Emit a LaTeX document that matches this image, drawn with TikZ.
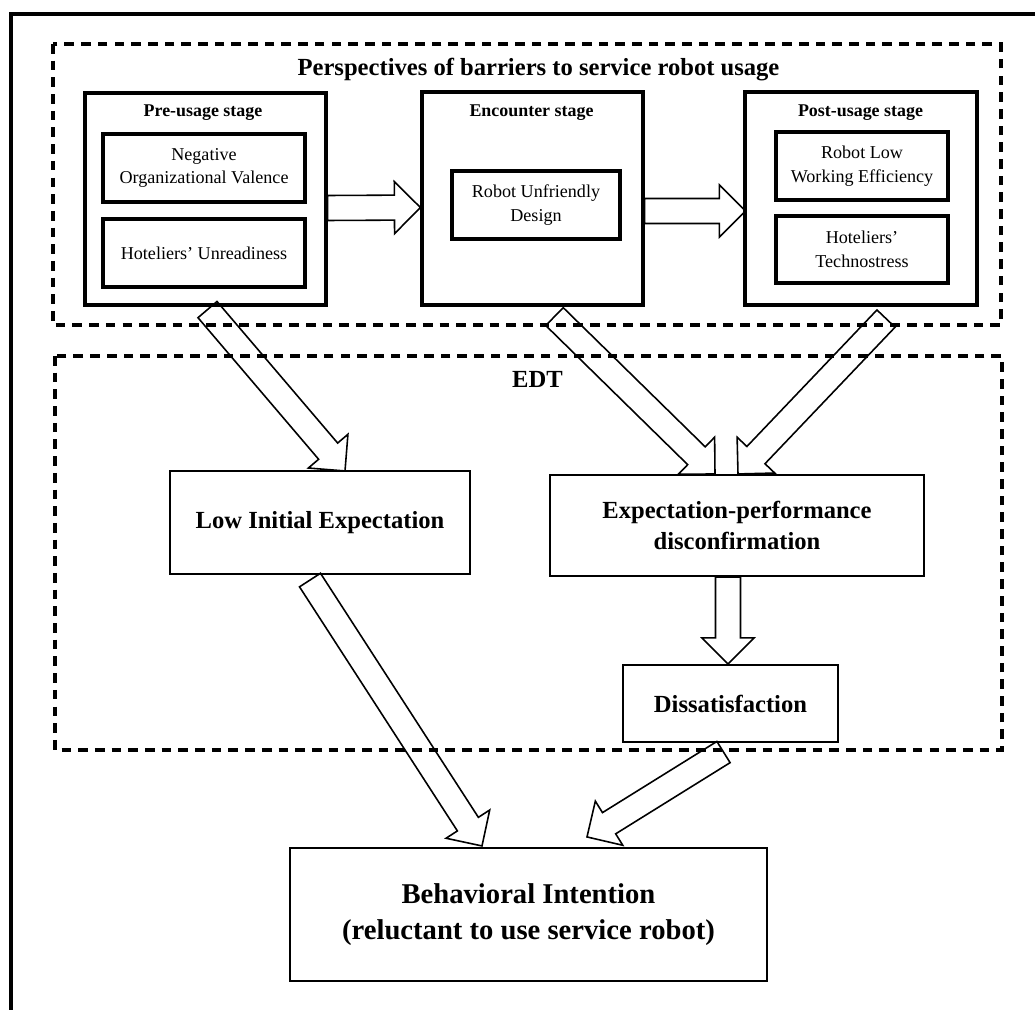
\documentclass[tikz,border=0pt]{standalone}
\usepackage{fontspec}
\setmainfont{Liberation Serif}
\usetikzlibrary{calc}

\tikzset{
  boxdim/.style 2 args={minimum width=#1*0.02cm, minimum height=#2*0.02cm},
  dashframe/.style={line width=1.8pt, dash pattern=on 5.5pt off 4pt},
  stage/.style={draw, line width=1.8pt},
  factor/.style={draw, line width=1.8pt, align=center, font=\fontsize{10.3}{13.6}\selectfont},
  construct/.style={draw, line width=1.2pt, align=center, font=\fontsize{14}{17.6}\selectfont\bfseries},
  intent/.style={font=\fontsize{16.3}{20.4}\selectfont\bfseries},
  regionlabel/.style={anchor=base, inner sep=0pt, font=\fontsize{14}{17}\selectfont\bfseries},
  stagelabel/.style={anchor=base, inner sep=0pt, font=\fontsize{10.2}{12}\selectfont\bfseries},
  fat/.style={draw, line width=0.9pt}
}

% hollow block arrow from #1 (tail) to #2 (tip)
\newcommand{\fatarrow}[2]{%
  \coordinate (fa-a) at (#1);
  \coordinate (fa-b) at (#2);
  \coordinate (fa-n) at ($(fa-b)!0.52cm!(fa-a)$);
  \draw[fat] ($(fa-a)!0.25cm!90:(fa-b)$) -- ($(fa-n)!0.25cm!90:(fa-b)$)
    -- ($(fa-n)!0.52cm!90:(fa-b)$) -- (fa-b)
    -- ($(fa-n)!0.52cm!-90:(fa-b)$) -- ($(fa-n)!0.25cm!-90:(fa-b)$)
    -- ($(fa-a)!0.25cm!-90:(fa-b)$) -- cycle;
}

\begin{document}
\begin{tikzpicture}[x=0.02cm, y=-0.02cm]
  \useasboundingbox (0,0) rectangle (1035,1010);

  % frame, only top and left edges show
  \draw[line width=2.1pt] (11,1010) -- (11,14) -- (1035,14);

  % the two dashed regions
  \draw[dashframe] (53,44) rectangle (1001,325);
  \draw[dashframe] (55,356) rectangle (1002,750);
  \node[regionlabel] (barriers) at (538.5,76) {Perspectives of barriers to service robot usage};
  \node[regionlabel] (edt) at (537.5,387) {EDT};

  % stages
  \node[stage, boxdim={241}{212}] (pre) at (205.5,199) {};
  \node[stage, boxdim={221}{213}] (enc) at (532.5,198.5) {};
  \node[stage, boxdim={232}{213}] (post) at (861,198.5) {};
  \node[stagelabel] (prelab) at (203,117) {Pre-usage stage};
  \node[stagelabel] (enclab) at (531.5,117) {Encounter stage};
  \node[stagelabel] (postlab) at (860.5,117) {Post-usage stage};

  \node[factor, boxdim={202}{68}] (valence) at (204,168) {Negative\\Organizational Valence};
  \node[factor, boxdim={202}{68}] (unready) at (204,253) {Hoteliers’ Unreadiness};
  \node[factor, boxdim={168}{68}] (design) at (536,205) {Robot Unfriendly\\Design};
  \node[factor, boxdim={172}{68}] (efficiency) at (862,166) {Robot Low\\Working Efficiency};
  \node[factor, boxdim={172}{67}] (stress) at (862,249.5) {Hoteliers’\\Technostress};

  % EDT part
  \node[construct, boxdim={300}{103}] (low) at (320,522.5) {Low Initial Expectation};
  \node[construct, boxdim={374}{101}] (epd) at (737,525.5) {Expectation-performance\\disconfirmation};
  \node[construct, boxdim={215}{77}] (dissat) at (730.5,703.5) {Dissatisfaction};
  \node[construct, intent, boxdim={477}{133}] (behav) at (528.5,914.5) {Behavioral Intention\\(reluctant to use service robot)};

  % arrows
  \fatarrow{[shift={(0,9)}]pre.east}{[shift={(0,9)}]enc.west}
  \fatarrow{[shift={(0,12.5)}]enc.east}{[shift={(2,12.5)}]post.west}
  \fatarrow{[shift={(2,3)}]pre.south}{[shift={(25,1)}]low.north}
  \fatarrow{[shift={(22,10)}]enc.south}{[shift={(-22,0)}]epd.north}
  \fatarrow{[shift={(25,12)}]post.south}{[shift={(1,0)}]epd.north}
  \fatarrow{[shift={(-9,0)}]epd.south}{[shift={(-2.5,0)}]dissat.north}
  \fatarrow{[shift={(-10,5)}]low.south}{[shift={(-46.5,-1)}]behav.north}
  \fatarrow{[shift={(-7,9)}]dissat.south}{[shift={(58.5,-10)}]behav.north}
\end{tikzpicture}
\end{document}
